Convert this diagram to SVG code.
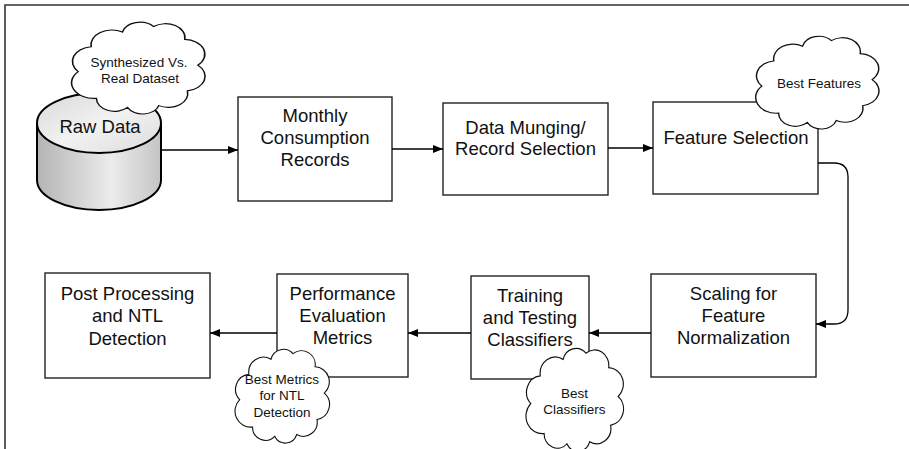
<svg xmlns="http://www.w3.org/2000/svg" width="909" height="449" viewBox="0 0 909 449">
<defs>
<linearGradient id="body" x1="0" y1="0" x2="1" y2="0">
<stop offset="0" stop-color="#b4b4b4"/>
<stop offset="0.6" stop-color="#ececec"/>
<stop offset="1" stop-color="#c4c4c4"/>
</linearGradient>
<linearGradient id="top" x1="0" y1="0" x2="1" y2="1">
<stop offset="0" stop-color="#d8d8d8"/>
<stop offset="0.5" stop-color="#f2f2f2"/>
<stop offset="1" stop-color="#dcdcdc"/>
</linearGradient>
<marker id="ah" viewBox="0 0 10 8" refX="10" refY="4" markerWidth="10" markerHeight="8" markerUnits="userSpaceOnUse" orient="auto">
<path d="M0,0 L10,4 L0,8 Z" fill="#000"/>
</marker>
<path id="cloud" d="M4,55 A16,16 0 0 1 14,28 A16,16 0 0 1 38,12 A14,14 0 0 1 62,6 A15,15 0 0 1 86,20 A16,16 0 0 1 96,48 A16,16 0 0 1 88,76 A15,15 0 0 1 66,92 A13,13 0 0 1 42,94 A14,14 0 0 1 18,84 A17,17 0 0 1 4,55 Z"/>
</defs>
<style>
.box{fill:#fff;stroke:#222;stroke-width:1.4}
.t{font-family:"Liberation Sans",Arial,sans-serif;font-size:18.5px;fill:#111;text-anchor:middle}
.ct{font-family:"Liberation Sans",Arial,sans-serif;font-size:13.5px;fill:#111;text-anchor:middle}
.cl{fill:#fff;stroke:#111;stroke-width:1.2}
.cn{fill:none;stroke:#000;stroke-width:1.3}
</style>
<rect width="909" height="449" fill="#fff"/>
<path d="M5,449 V5 H909" fill="none" stroke="#333" stroke-width="1.6"/>

<g id="raw-data">
<path d="M37,123 V180 A62,30 0 0 0 161,180 V123 Z" fill="url(#body)" stroke="#000" stroke-width="2"/>
<ellipse cx="99" cy="123" rx="62" ry="30" fill="url(#top)" stroke="#000" stroke-width="2"/>
<text class="t" x="100" y="133">Raw Data</text>
</g>

<g id="monthly">
<rect class="box" x="238" y="97" width="154" height="104"/>
<text class="t" x="315" y="122">Monthly</text>
<text class="t" x="315" y="144">Consumption</text>
<text class="t" x="315" y="166">Records</text>
</g>

<g id="munging">
<rect class="box" x="443" y="103" width="165" height="92"/>
<text class="t" x="525.5" y="134">Data Munging/</text>
<text class="t" x="525.5" y="155">Record Selection</text>
</g>

<g id="feature-selection">
<rect class="box" x="653" y="102" width="165" height="92"/>
<text class="t" x="736" y="144">Feature Selection</text>
</g>

<g id="scaling">
<rect class="box" x="651" y="274" width="165" height="103"/>
<text class="t" x="733.5" y="300">Scaling for</text>
<text class="t" x="733.5" y="322">Feature</text>
<text class="t" x="733.5" y="344">Normalization</text>
</g>

<g id="training">
<rect class="box" x="471" y="276" width="118" height="103"/>
<text class="t" x="530" y="302">Training</text>
<text class="t" x="530" y="324">and Testing</text>
<text class="t" x="530" y="346">Classifiers</text>
</g>

<g id="performance">
<rect class="box" x="277" y="274" width="131" height="103"/>
<text class="t" x="342.5" y="300">Performance</text>
<text class="t" x="342.5" y="322">Evaluation</text>
<text class="t" x="342.5" y="344">Metrics</text>
</g>

<g id="post-processing">
<rect class="box" x="45" y="273" width="165" height="105"/>
<text class="t" x="127.5" y="300">Post Processing</text>
<text class="t" x="127.5" y="322">and NTL</text>
<text class="t" x="127.5" y="345">Detection</text>
</g>

<g id="connectors">
<path class="cn" d="M162,150 H238" marker-end="url(#ah)"/>
<path class="cn" d="M392,149 H443" marker-end="url(#ah)"/>
<path class="cn" d="M608,148 H653" marker-end="url(#ah)"/>
<path class="cn" d="M818,163 H834 Q848,163 848,177 V310 Q848,324 834,324 H816" marker-end="url(#ah)"/>
<path class="cn" d="M651,333 H589" marker-end="url(#ah)"/>
<path class="cn" d="M471,333 H408" marker-end="url(#ah)"/>
<path class="cn" d="M277,333 H210" marker-end="url(#ah)"/>
</g>

<g id="cloud-dataset">
<use href="#cloud" class="cl" transform="translate(73,21) scale(1.3,0.92)" vector-effect="non-scaling-stroke" style="vector-effect:non-scaling-stroke"/>
<text class="ct" x="139" y="67">Synthesized Vs.</text>
<text class="ct" x="140" y="83">Real Dataset</text>
</g>

<g id="cloud-features">
<use href="#cloud" class="cl" transform="translate(757,35) scale(1.2,0.93)"/>
<text class="ct" x="819" y="88">Best Features</text>
</g>

<g id="cloud-metrics">
<use href="#cloud" class="cl" transform="translate(236,348) scale(0.92,0.94)"/>
<text class="ct" x="282" y="384">Best Metrics</text>
<text class="ct" x="282" y="400">for NTL</text>
<text class="ct" x="282" y="417">Detection</text>
</g>

<g id="cloud-classifiers">
<use href="#cloud" class="cl" transform="translate(527,347) scale(0.95,1.03)"/>
<text class="ct" x="574.5" y="398">Best</text>
<text class="ct" x="574.5" y="414">Classifiers</text>
</g>
</svg>
